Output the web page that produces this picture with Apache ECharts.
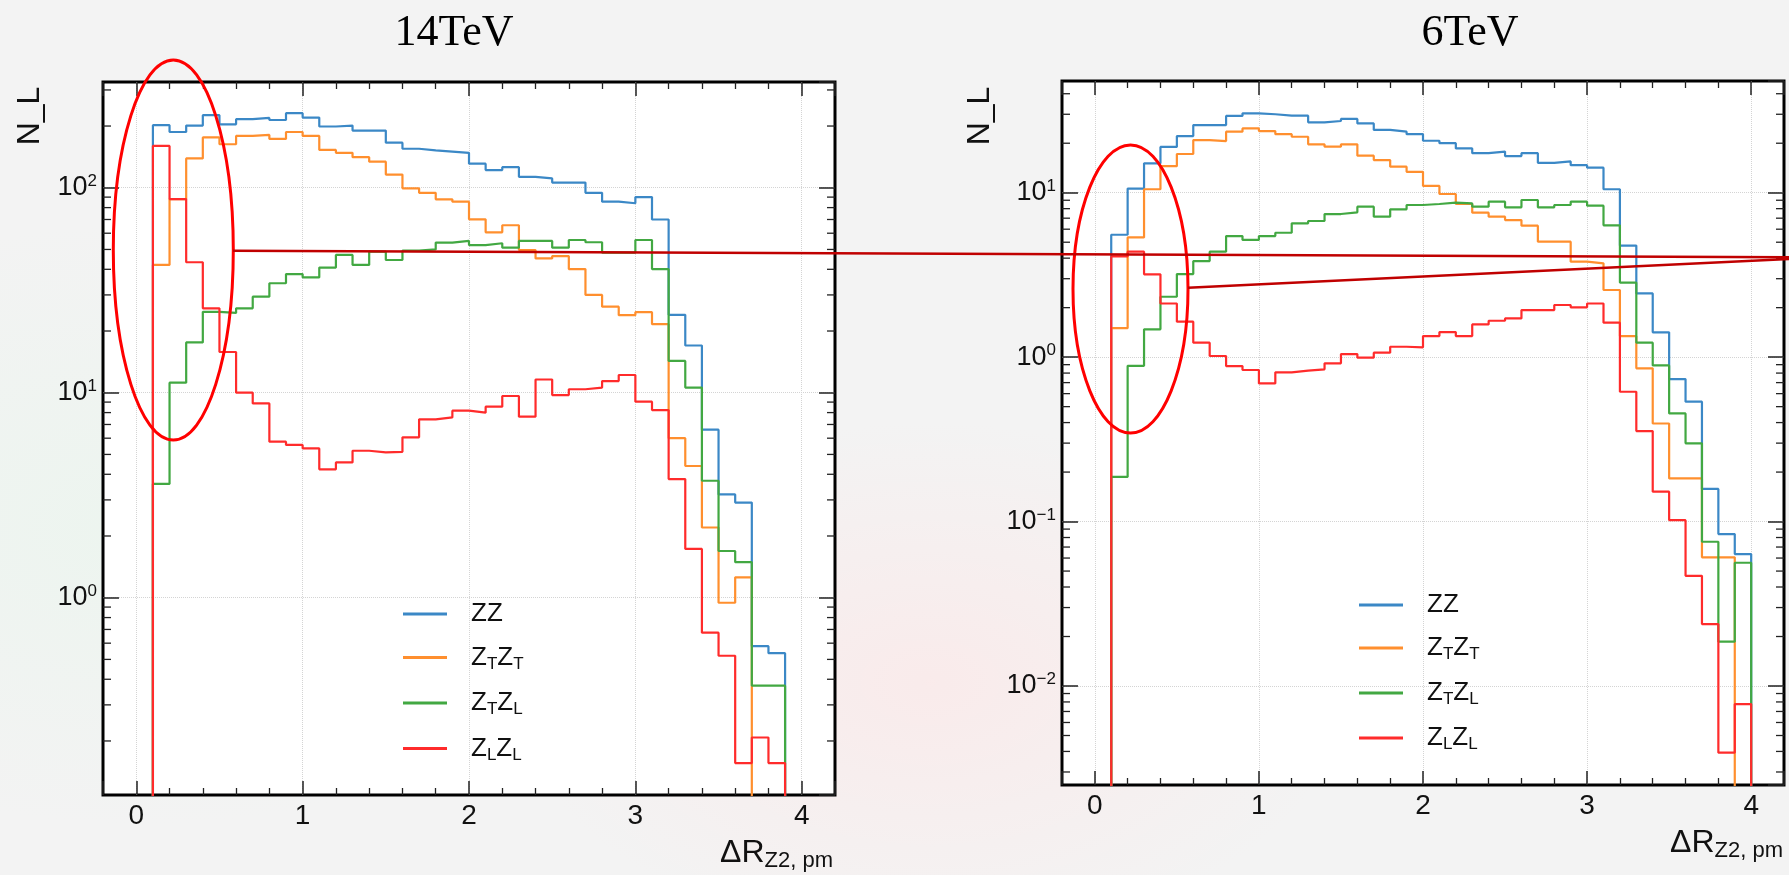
<!DOCTYPE html>
<html>
<head>
<meta charset="utf-8">
<script src="https://cdn.jsdelivr.net/npm/echarts@6/dist/echarts.min.js"></script>
<style>
html,body{margin:0;padding:0;}
body{width:1789px;height:875px;overflow:hidden;
  background: radial-gradient(ellipse 420px 260px at 52% 78%, rgba(255,228,228,0.55), rgba(255,255,255,0) 100%),
              radial-gradient(ellipse 500px 300px at 8% 60%, rgba(232,246,236,0.6), rgba(255,255,255,0) 100%),
              #f3f3f3;}
#c{width:1789px;height:875px;}
</style>
</head>
<body>
<div id="c"></div>
<script>
// ---------------- data ----------------
const binWidth = 0.1;
const binLo14 = [0.1,0.2,0.3,0.4,0.5,0.6,0.7,0.8,0.9,1.0,1.1,1.2,1.3,1.4,1.5,1.6,1.7,1.8,1.9,2.0,
                 2.1,2.2,2.3,2.4,2.5,2.6,2.7,2.8,2.9,3.0,3.1,3.2,3.3,3.4,3.5,3.6,3.7,3.8];
const ZZ_14   = [202,187,201,226,204,216,219,214,231,220,199,201,190,190,166,155,152,150,148,131,
                 122,126,113,111,106,106,94.5,85.5,84,90,70,24,17,6.6,3.19,2.91,0.58,0.536];
const ZTZT_14 = [42,88,139,176,163,179,181,173,187,179,153,148,141,134,116,99.3,94.5,87.8,85.5,70.1,
                 60.6,65.6,49.7,45.2,46.4,40.1,30,26.3,23.9,24.7,21.6,6.0,4.39,2.2,0.945,1.257,0,0];
const ZTZL_14 = [3.59,11.2,17.6,24.8,24.5,25.8,29.4,34.2,37.9,36.5,40.8,47,42,48.8,44.4,49.3,50,54,55,52.5,
                 53.6,51,55,55,51,55.6,54.2,48.2,48.2,55.6,40.1,14.3,10.6,3.72,1.69,1.49,0.372,0.372];
const ZLZL_14 = [160,88,43.3,25.8,15.8,10.0,8.87,5.77,5.56,5.35,4.23,4.57,5.21,5.12,5.15,6.06,7.42,7.58,8.17,7.99,
                 8.55,9.64,7.64,11.6,9.74,10.4,10.6,11.4,12.2,9.04,8.23,3.79,1.73,0.675,0.521,0.156,0.208,0.156];

const binLo6 = [0.1,0.2,0.3,0.4,0.5,0.6,0.7,0.8,0.9,1.0,1.1,1.2,1.3,1.4,1.5,1.6,1.7,1.8,1.9,2.0,
                2.1,2.2,2.3,2.4,2.5,2.6,2.7,2.8,2.9,3.0,3.1,3.2,3.3,3.4,3.5,3.6,3.7,3.8,3.9];
const ZZ_6   = [5.55,10.6,15.1,19.0,22.1,25.8,25.8,29.3,30.4,30,29.4,29.4,26.8,27.3,28.1,26.4,24.1,23.5,22.7,20.7,
                20.0,18.6,17.4,17.8,16.7,17.4,15.2,15.5,14.7,14.2,10.5,4.77,2.44,1.415,0.736,0.536,0.158,0.084,0.0634];
const ZTZT_6 = [1.5,5.35,10.5,14.5,17.2,20.9,20.6,23.5,24.6,23.7,22.7,21.9,19.7,19.05,19.7,16.8,15.8,14.4,13.4,11.0,
                9.82,8.54,7.56,7.15,6.82,6.30,5.04,5.04,3.81,3.72,2.56,1.344,0.855,0.395,0.183,0.183,0.0606,0.0606,0];
const ZTZL_6 = [0.187,0.886,1.476,2.33,3.20,3.84,4.38,5.45,5.16,5.45,5.71,6.51,6.73,7.42,7.6,8.22,7.15,7.93,8.42,8.54,
                8.70,8.61,8.22,8.82,8.15,9.03,8.15,8.42,8.82,8.34,6.33,2.84,1.224,0.891,0.455,0.299,0.0754,0.0186,0.0562];
const ZLZL_6 = [4.1,4.38,3.19,2.12,1.643,1.224,1.016,0.883,0.835,0.692,0.808,0.827,0.843,0.917,1.044,0.992,1.064,1.157,1.147,1.344,
                1.421,1.344,1.582,1.665,1.721,1.934,1.934,2.075,2.008,2.12,1.62,0.616,0.355,0.152,0.102,0.0468,0.0238,0.00393,0.00776];

const seriesKeys = ['ZZ','ZTZT','ZTZL','ZLZL'];
const legendText = {
  ZZ:   '{g| }{m|ZZ}',
  ZTZT: '{g| }{m|Z}{s|T}{m|Z}{s|T}',
  ZTZL: '{g| }{m|Z}{s|T}{m|Z}{s|L}',
  ZLZL: '{g| }{m|Z}{s|L}{m|Z}{s|L}'
};
const panelTitles = ['14TeV', '6TeV'];
const xRange = [-0.2, 4.2];
const yRange14 = [0.109, 328];
const yRange6 = [0.0025, 47.8];

// ---------------- styling ----------------
const COLORS = {ZZ:'#3b88c6', ZTZT:'#ff8f2e', ZTZL:'#42a842', ZLZL:'#ff2b2b'};
const SANS = '"Liberation Sans", Arial, Helvetica, sans-serif';
const SERIF = '"Liberation Serif", "Times New Roman", serif';
const TXT = '#111';

const chart = echarts.init(document.getElementById('c'), null, {renderer:'canvas'});

function stepData(lo, vals, floor) {
  const pts = [[lo[0], floor]];
  for (let i = 0; i < vals.length; i++) pts.push([lo[i], vals[i] > 0 ? vals[i] : floor]);
  pts.push([lo[lo.length - 1] + binWidth, floor]);
  return pts;
}
function logLabel(v) {
  const e = Math.log10(v), r = Math.round(e);
  if (Math.abs(e - r) > 1e-6) return '';
  return '{b|10}{p|' + (r < 0 ? '\u2212' + (-r) : r) + '}';
}
function intLabel(v) {
  return Math.abs(v - Math.round(v)) > 1e-6 ? '' : String(Math.round(v));
}
function minorLogVals(r) {
  const out = [];
  for (let e = -5; e <= 4; e++) for (let m = 2; m <= 9; m++) {
    const v = m * Math.pow(10, e);
    if (v > r[0] && v < r[1]) out.push([xRange[0], v]);
  }
  return out;
}

const grids = [
  {left:103, top:82, width:732, height:713, show:true, backgroundColor:'#fff', borderColor:'#000', borderWidth:3},
  {left:1062, top:81, width:722, height:704, show:true, backgroundColor:'#fff', borderColor:'#000', borderWidth:3}
];

function xAxes(gi) {
  const base = {
    type:'value', gridIndex:gi, min:xRange[0], max:xRange[1],
    axisLine:{show:false, onZero:false},
    axisTick:{show:true, inside:true, length:14, lineStyle:{color:'#222', width:1.5}},
    minorTick:{show:true, splitNumber:5, length:7, lineStyle:{color:'#222', width:1.3}},
  };
  return [
    Object.assign({}, base, {
      position:'bottom',
      axisLabel:{show:true, margin:7, fontSize:28, fontFamily:SANS, color:TXT, formatter:intLabel,
                 showMinLabel:false, showMaxLabel:false},
      splitLine:{show:true, showMinLine:false, showMaxLine:false,
                 lineStyle:{color:'#d4d4d4', type:'dotted', width:1}}
    }),
    Object.assign({}, base, {
      position:'top', axisLabel:{show:false}, splitLine:{show:false}
    })
  ];
}
function yAxes(gi, r) {
  const base = {
    type:'log', logBase:10, gridIndex:gi, min:r[0], max:r[1],
    axisLine:{show:false, onZero:false},
    axisTick:{show:true, inside:true, length:16, lineStyle:{color:'#222', width:1.5}},
  };
  return [
    Object.assign({}, base, {
      position:'left',
      axisLabel:{show:true, margin:6, formatter:logLabel, color:TXT, fontFamily:SANS,
                 showMinLabel:false, showMaxLabel:false,
                 rich:{b:{fontSize:27, lineHeight:30, fontFamily:SANS, color:TXT},
                       p:{fontSize:17, lineHeight:20, verticalAlign:'top', fontFamily:SANS, color:TXT}}},
      splitLine:{show:true, showMinLine:false, showMaxLine:false,
                 lineStyle:{color:'#d4d4d4', type:'dotted', width:1}}
    }),
    Object.assign({}, base, {
      position:'right', axisLabel:{show:false}, splitLine:{show:false}
    })
  ];
}

const panels = [
  {lo:binLo14, vals:{ZZ:ZZ_14, ZTZT:ZTZT_14, ZTZL:ZTZL_14, ZLZL:ZLZL_14}, yr:yRange14, tag:'14'},
  {lo:binLo6,  vals:{ZZ:ZZ_6,  ZTZT:ZTZT_6,  ZTZL:ZTZL_6,  ZLZL:ZLZL_6},  yr:yRange6,  tag:'6'}
];

const series = [];
panels.forEach((p, gi) => {
  const xi = gi * 2, yi = gi * 2;
  // minor log ticks (left and right frame sides), positioned through the axis scale
  series.push({
    type:'custom', xAxisIndex:xi, yAxisIndex:yi, silent:true, z:3,
    data:minorLogVals(p.yr),
    renderItem:function(params, api){
      const v = api.value(1);
      const l = api.coord([xRange[0], v]);
      const r = api.coord([xRange[1], v]);
      return {type:'group', children:[
        {type:'line', shape:{x1:l[0], y1:l[1], x2:l[0] + 8, y2:l[1]}, style:{stroke:'#222', lineWidth:1.3}},
        {type:'line', shape:{x1:r[0] - 8, y1:r[1], x2:r[0], y2:r[1]}, style:{stroke:'#222', lineWidth:1.3}}
      ]};
    }
  });
  const floor = p.yr[0] / 100;
  seriesKeys.forEach((k, si) => {
    series.push({
      name:p.tag + ':' + k, type:'line', xAxisIndex:xi, yAxisIndex:yi,
      step:'end', showSymbol:false, symbol:'none', clip:true, z:5 + si,
      data:stepData(p.lo, p.vals[k], floor),
      lineStyle:{color:COLORS[k], width:2.2},
      itemStyle:{color:COLORS[k]},
      emphasis:{disabled:true}
    });
  });
});

const legendRich = {
  g:{width:19, fontSize:26},
  m:{fontSize:26, lineHeight:30, fontFamily:SANS, color:TXT},
  s:{fontSize:17, lineHeight:20, verticalAlign:'bottom', fontFamily:SANS, color:TXT}
};
function legendFor(tag, left, top, gap) {
  return {
    orient:'vertical', left:left, top:top, padding:0, itemWidth:44, itemHeight:3, itemGap:gap,
    icon:'rect', selectedMode:false,
    data:seriesKeys.map(k => tag + ':' + k),
    formatter:function(name){ return legendText[name.split(':')[1]]; },
    textStyle:{color:TXT, fontSize:26, fontFamily:SANS, rich:legendRich}
  };
}

const xTitleRich = {
  a:{fontSize:32, lineHeight:36, fontFamily:SANS, fill:TXT, color:TXT},
  b:{fontSize:22, lineHeight:18, verticalAlign:'bottom', fontFamily:SANS, fill:TXT, color:TXT}
};

const graphic = [
  {type:'text', x:454, y:33, z:50, style:{text:panelTitles[0], font:'44px ' + SERIF, fill:'#000', align:'center', verticalAlign:'middle'}},
  {type:'text', x:1470, y:33, z:50, style:{text:panelTitles[1], font:'44px ' + SERIF, fill:'#000', align:'center', verticalAlign:'middle'}},
  {type:'text', x:30, y:116, rotation:Math.PI/2, z:50, style:{text:'N_L', font:'32px ' + SANS, fill:TXT, align:'center', verticalAlign:'middle'}},
  {type:'text', x:980, y:116, rotation:Math.PI/2, z:50, style:{text:'N_L', font:'32px ' + SANS, fill:TXT, align:'center', verticalAlign:'middle'}},
  {type:'text', x:833, y:853.5, z:50, style:{text:'{a|\u0394R}{b|Z2, pm}', rich:xTitleRich, fill:TXT, align:'right', verticalAlign:'middle'}},
  {type:'text', x:1783, y:843.5, z:50, style:{text:'{a|\u0394R}{b|Z2, pm}', rich:xTitleRich, fill:TXT, align:'right', verticalAlign:'middle'}},
  // slide annotations
  {type:'ellipse', z:60, shape:{cx:173.3, cy:250, rx:60, ry:190}, style:{stroke:'#ff0000', fill:null, lineWidth:3}},
  {type:'ellipse', z:60, shape:{cx:1130.5, cy:289, rx:57.5, ry:144}, style:{stroke:'#ff0000', fill:null, lineWidth:3}},
  {type:'line', z:61, shape:{x1:233, y1:250.7, x2:1789, y2:257.3}, style:{stroke:'#c00000', lineWidth:2.6}},
  {type:'line', z:61, shape:{x1:1188, y1:287.7, x2:1789, y2:259}, style:{stroke:'#c00000', lineWidth:2.6}}
];

chart.setOption({
  animation:false,
  backgroundColor:'transparent',
  grid:grids,
  xAxis:[].concat(xAxes(0), xAxes(1)),
  yAxis:[].concat(yAxes(0, yRange14), yAxes(1, yRange6)),
  legend:[legendFor('14', 403, 601, 17.5), legendFor('6', 1359, 592, 17)],
  series:series,
  graphic:graphic
});
</script>
</body>
</html>
